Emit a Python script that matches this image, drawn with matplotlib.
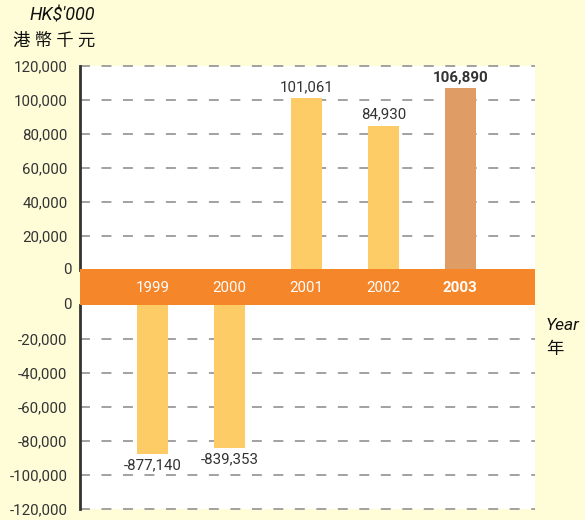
import matplotlib
matplotlib.use("Agg")
import matplotlib.pyplot as plt
from matplotlib import font_manager as fm
from matplotlib.patches import Rectangle

names = {f.name for f in fm.fontManager.ttflist}
MAIN = "Roboto" if "Roboto" in names else "Liberation Sans"
plt.rcParams['font.family'] = [MAIN, 'Noto Sans CJK TC', 'DejaVu Sans']

# ---- data ----
years = ["1999", "2000", "2001", "2002", "2003"]
bar_heights = [-87714, -83935, 101061, 84930, 106890]  # drawn heights
value_labels = ["-877,140", "-839,353", "101,061", "84,930", "106,890"]
upper_ticks = [20000, 40000, 60000, 80000, 100000, 120000]
lower_ticks = [-20000, -40000, -60000, -80000, -100000, -120000]

BG = "#FFFDD8"
BAR = "#FECC66"
BAR_HL = "#DF9C65"
BAND = "#F5862A"
GRID = "#9A9A9A"
TXT = "#333333"
FS = 10.8

W, H = 585, 520
fig = plt.figure(figsize=(W / 100, H / 100), dpi=100, facecolor=BG)

def fx(px): return px / W
def fy(py): return 1 - py / H

L, R = 80, 535
ax_up = fig.add_axes([fx(L), fy(270), fx(R - L), fy(66) - fy(270)])
ax_dn = fig.add_axes([fx(L), fy(509), fx(R - L), fy(305) - fy(509)])

x = list(range(len(years)))
xlim = (-0.94, 4.97)
bw = 0.40

for ax, lim, ticks in [(ax_up, (0, 120000), upper_ticks), (ax_dn, (-120000, 0), lower_ticks)]:
    ax.set_facecolor("white")
    ax.set_xlim(*xlim)
    ax.set_ylim(*lim)
    ax.set_xticks([])
    for sp in ["top", "right", "bottom"]:
        ax.spines[sp].set_visible(False)
    ax.spines["left"].set_linewidth(2.0)
    ax.spines["left"].set_color("#333333")
    ax.set_yticks(ticks)
    ax.set_yticklabels([f"{t:,}" for t in ticks], fontsize=FS, color=TXT)
    ax.tick_params(axis="y", length=0, pad=9)
    for t in ticks:
        ax.axhline(t, color=GRID, lw=1.3, dashes=(5.5, 6.4), zorder=0, clip_on=False)

for i, (h, lab) in enumerate(zip(bar_heights, value_labels)):
    col = BAR_HL if i == len(years) - 1 else BAR
    bold = i == len(years) - 1
    if h >= 0:
        ax_up.bar(x[i], h, width=bw, color=col, zorder=2)
        ax_up.annotate(lab, (x[i], h), xytext=(0, 3), textcoords="offset points",
                       ha="center", va="bottom", fontsize=FS, color=TXT,
                       fontweight="bold" if bold else "normal")
    else:
        ax_dn.bar(x[i], h, width=bw, color=col, zorder=2)
        ax_dn.annotate(lab, (x[i], h), xytext=(0, -3), textcoords="offset points",
                       ha="center", va="top", fontsize=FS, color=TXT,
                       fontweight="bold" if bold else "normal")

# orange band with year labels
band = Rectangle((fx(L), fy(305)), fx(R - L), fy(269) - fy(305), transform=fig.transFigure,
                 facecolor=BAND, edgecolor="none", zorder=5)
fig.patches.append(band)
fig.text(fx(L) - 0.015, fy(270), "0", ha="right", va="center", fontsize=FS, color=TXT)
fig.text(fx(L) - 0.015, fy(305), "0", ha="right", va="center", fontsize=FS, color=TXT)
for i, yr in enumerate(years):
    xd = ax_up.transData.transform((x[i], 0))[0]
    xf = fig.transFigure.inverted().transform((xd, 0))[0]
    fig.text(xf, fy(288), yr, ha="center", va="center", fontsize=FS, color="white",
             fontweight="bold" if i == len(years) - 1 else "normal", zorder=6)

# axis titles
fig.text(fx(95), fy(16), "HK$'000", ha="right", va="center", fontsize=13, style="italic", color="#111111")
fig.text(fx(95), fy(41), "港 幣 千 元", ha="right", va="center", fontsize=12.5, style="italic", color="#111111")
fig.text(fx(546), fy(326), "Year", ha="left", va="center", fontsize=12.5, style="italic", color="#111111")
fig.text(fx(546), fy(349), "年", ha="left", va="center", fontsize=12.5, style="italic", color="#111111")

fig.savefig("out.png", dpi=100, facecolor=BG)
